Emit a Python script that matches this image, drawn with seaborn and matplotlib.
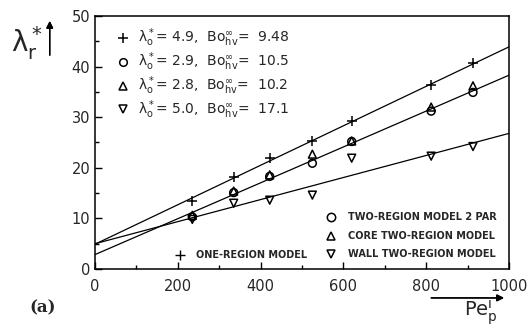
#!/usr/bin/env python3
"""Radial dispersion lambda_r* versus particle Peclet number."""

import matplotlib
matplotlib.use("Agg")
import matplotlib.pyplot as plt
from matplotlib.lines import Line2D
from matplotlib.ticker import MultipleLocator
import pandas as pd
import seaborn as sns

# measured points
pe = [235, 335, 422, 525, 620, 812, 913]
one_region = [13.5, 18.2, 21.9, 25.2, 29.3, 36.4, 40.7]
two_region_2par = [10.3, 15.1, 18.3, 20.9, 25.2, 31.2, 34.9]
core_two_region = [10.6, 15.4, 18.6, 22.7, 25.3, 32.0, 36.2]
wall_two_region = [9.8, 13.0, 13.6, 14.6, 21.9, 22.3, 24.2]

# fitted straight lines (end values at Pe = 0 and 1000)
fit_pe = [0, 1000]
fit_one = [4.9, 43.9]
fit_two = [2.85, 38.3]
fit_wall = [5.0, 26.8]

top_legend = [
    ("+", "4.9", "9.48"),
    ("o", "2.9", "10.5"),
    ("^", "2.8", "10.2"),
    ("v", "5.0", "17.1"),
]
bottom_legend = [
    ("o", "TWO-REGION MODEL 2 PAR"),
    ("^", "CORE TWO-REGION MODEL"),
    ("v", "WALL TWO-REGION MODEL"),
]

sns.set_style("ticks")
plt.rcParams["font.family"] = ["DejaVu Sans"]
plt.rcParams["mathtext.default"] = "regular"

fig = plt.figure(figsize=(5.29, 3.31), dpi=100)
ax = fig.add_axes([0.1796, 0.1873, 0.7826, 0.7644])

for yv in (fit_one, fit_two, fit_wall):
    sns.lineplot(x=fit_pe, y=yv, ax=ax, color="black", linewidth=0.9)

df = pd.DataFrame({"pe": pe, "one": one_region, "two": two_region_2par,
                   "core": core_two_region, "wall": wall_two_region})
sns.scatterplot(data=df, x="pe", y="one", marker="+", s=60, color="black",
                linewidth=1.1, ax=ax)
for col, mk in (("two", "o"), ("core", "^"), ("wall", "v")):
    sns.scatterplot(data=df, x="pe", y=col, marker=mk, s=32, facecolor="none",
                    edgecolor="black", linewidth=1.1, ax=ax)

ax.set_xlim(0, 1000)
ax.set_ylim(0, 50)
ax.xaxis.set_major_locator(MultipleLocator(200))
ax.xaxis.set_minor_locator(MultipleLocator(100))
ax.yaxis.set_major_locator(MultipleLocator(10))
ax.yaxis.set_minor_locator(MultipleLocator(5))
ax.tick_params(which="both", direction="in", labelsize=10.5, width=1, color="black")
ax.tick_params(which="major", length=5)
ax.tick_params(which="minor", length=3)
ax.tick_params(axis="x", pad=7)
for sp in ax.spines.values():
    sp.set_linewidth(1.1)
    sp.set_color("black")
ax.set_xlabel("")
ax.set_ylabel("")

# upper-left legend
for i, (mk, lam, bo) in enumerate(top_legend):
    yy = 0.913 - i * 0.094
    mkw = dict(marker=mk, color="black", markersize=7 if mk == "+" else 5.5,
               markerfacecolor="none", markeredgewidth=1.1, linestyle="none",
               transform=ax.transAxes, clip_on=False)
    ax.add_line(Line2D([0.068], [yy], **mkw))
    ax.text(0.105, yy, r"$\lambda_o^*$= " + lam + r",  Bo$_{hv}^{\infty}$=  " + bo,
            transform=ax.transAxes, fontsize=10, va="center", ha="left")

# lower-right legend
for i, (mk, lab) in enumerate(bottom_legend):
    yy = 0.205 - i * 0.073
    ax.add_line(Line2D([0.57], [yy], marker=mk, color="black", markersize=6,
                       markerfacecolor="none", markeredgewidth=1.1,
                       linestyle="none", transform=ax.transAxes))
    ax.text(0.61, yy, lab, transform=ax.transAxes, fontsize=7, fontweight="bold",
            va="center", ha="left")
ax.add_line(Line2D([0.205], [0.057], marker="+", color="black", markersize=7,
                   markeredgewidth=1.0, linestyle="none", transform=ax.transAxes))
ax.text(0.245, 0.057, "ONE-REGION MODEL", transform=ax.transAxes, fontsize=7,
        fontweight="bold", va="center", ha="left")

# axis labels with arrows
fig.text(0.02, 0.87, r"$\lambda_r^*$", fontsize=20, ha="left", va="center")
fig.add_artist(plt.annotate("", xy=(0.094, 0.945), xytext=(0.094, 0.825),
                            xycoords="figure fraction",
                            arrowprops=dict(arrowstyle="-|>", color="black", lw=1.0)))
fig.text(0.91, 0.06, r"Pe$_p^i$", fontsize=14, ha="center", va="center")
fig.add_artist(plt.annotate("", xy=(0.958, 0.1), xytext=(0.81, 0.1),
                            xycoords="figure fraction",
                            arrowprops=dict(arrowstyle="-|>", color="black", lw=1.0)))
fig.text(0.055, 0.07, "(a)", fontsize=12, fontweight="bold",
         family=["DejaVu Serif"], ha="left", va="center")

fig.savefig("out.png", dpi=100)
